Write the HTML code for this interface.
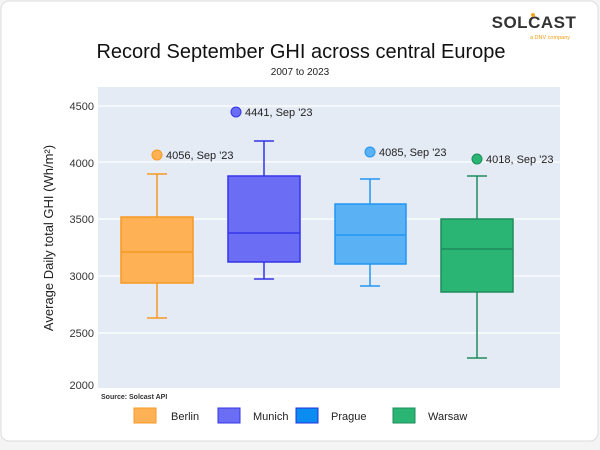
<!DOCTYPE html>
<html><head><meta charset="utf-8"><style>
body{margin:0;width:600px;height:445px;background:#f4f4f4;font-family:"Liberation Sans",sans-serif;overflow:hidden}
</style></head><body>
<svg width="600" height="445" xmlns="http://www.w3.org/2000/svg" font-family="Liberation Sans, sans-serif">
<rect x="1" y="1" width="597" height="440" rx="8" fill="#fff" stroke="#ddd"/>
<text x="534" y="28" font-size="17" font-weight="bold" fill="#333" text-anchor="middle" letter-spacing="0.5">SOLCAST</text>
<circle cx="533" cy="15" r="2" fill="#f6a623"/>
<text x="570" y="39" font-size="5.5" fill="#f39c12" text-anchor="end">a DNV company</text>
<text x="301" y="58" font-size="20" fill="#111" text-anchor="middle">Record September GHI across central Europe</text>
<text x="300" y="75" font-size="10" fill="#222" text-anchor="middle">2007 to 2023</text>
<rect x="98" y="87" width="462" height="301" fill="#e5ebf5"/>
<g stroke="#fff" stroke-width="1.2">
<line x1="98" x2="560" y1="106" y2="106"/><line x1="98" x2="560" y1="162" y2="162"/>
<line x1="98" x2="560" y1="219" y2="219"/><line x1="98" x2="560" y1="276" y2="276"/>
<line x1="98" x2="560" y1="333" y2="333"/></g>
<g font-size="11" fill="#333" text-anchor="end">
<text x="94" y="110">4500</text><text x="94" y="167">4000</text><text x="94" y="223">3500</text>
<text x="94" y="280">3000</text><text x="94" y="337">2500</text><text x="94" y="389">2000</text></g>
<text transform="translate(53,238) rotate(-90)" font-size="13" fill="#222" text-anchor="middle">Average Daily total GHI (Wh/m²)</text>
<g stroke="#f59a23" stroke-width="1.5">
<line x1="157" x2="157" y1="174" y2="318"/><line x1="147" x2="167" y1="174" y2="174"/><line x1="147" x2="167" y1="318" y2="318"/>
<rect x="121" y="217" width="72" height="66" fill="#ffb155"/><line x1="121" x2="193" y1="252" y2="252"/></g>
<g stroke="#3535e8" stroke-width="1.5">
<line x1="264" x2="264" y1="141" y2="279"/><line x1="254" x2="274" y1="141" y2="141"/><line x1="254" x2="274" y1="279" y2="279"/>
<rect x="228" y="176" width="72" height="86" fill="#6b6ef5"/><line x1="228" x2="300" y1="233" y2="233"/></g>
<g stroke="#2196f3" stroke-width="1.5">
<line x1="370" x2="370" y1="179" y2="286"/><line x1="360" x2="380" y1="179" y2="179"/><line x1="360" x2="380" y1="286" y2="286"/>
<rect x="335" y="204" width="71" height="60" fill="#5ab2f4"/><line x1="335" x2="406" y1="235" y2="235"/></g>
<g stroke="#1e8c5c" stroke-width="1.5">
<line x1="477" x2="477" y1="176" y2="358"/><line x1="467" x2="487" y1="176" y2="176"/><line x1="467" x2="487" y1="358" y2="358"/>
<rect x="441" y="219" width="72" height="73" fill="#2bb574"/><line x1="441" x2="513" y1="249" y2="249"/></g>
<circle cx="157" cy="155" r="5" fill="#ffb155" stroke="#f59a23"/>
<text x="166" y="159" font-size="11" fill="#222">4056, Sep '23</text>
<circle cx="236" cy="112" r="5" fill="#6b6ef5" stroke="#3535e8"/>
<text x="245" y="116" font-size="11" fill="#222">4441, Sep '23</text>
<circle cx="370" cy="152" r="5" fill="#5ab2f4" stroke="#2196f3"/>
<text x="379" y="156" font-size="11" fill="#222">4085, Sep '23</text>
<circle cx="477" cy="159" r="5" fill="#2bb574" stroke="#1e8c5c"/>
<text x="486" y="163" font-size="11" fill="#222">4018, Sep '23</text>
<text x="101" y="399" font-size="7" font-weight="bold" fill="#333">Source: Solcast API</text>
<g font-size="11" fill="#222">
<rect x="134" y="408" width="22" height="15" fill="#ffb155" stroke="#f59a23"/><text x="171" y="420">Berlin</text>
<rect x="218" y="408" width="22" height="15" fill="#6b6ef5" stroke="#3535e8"/><text x="253" y="420">Munich</text>
<rect x="296" y="408" width="22" height="15" fill="#0a8cf0" stroke="#2030e0"/><text x="331" y="420">Prague</text>
<rect x="393" y="408" width="22" height="15" fill="#2bb574" stroke="#1e8c5c"/><text x="428" y="420">Warsaw</text></g>
</svg>
</body></html>
